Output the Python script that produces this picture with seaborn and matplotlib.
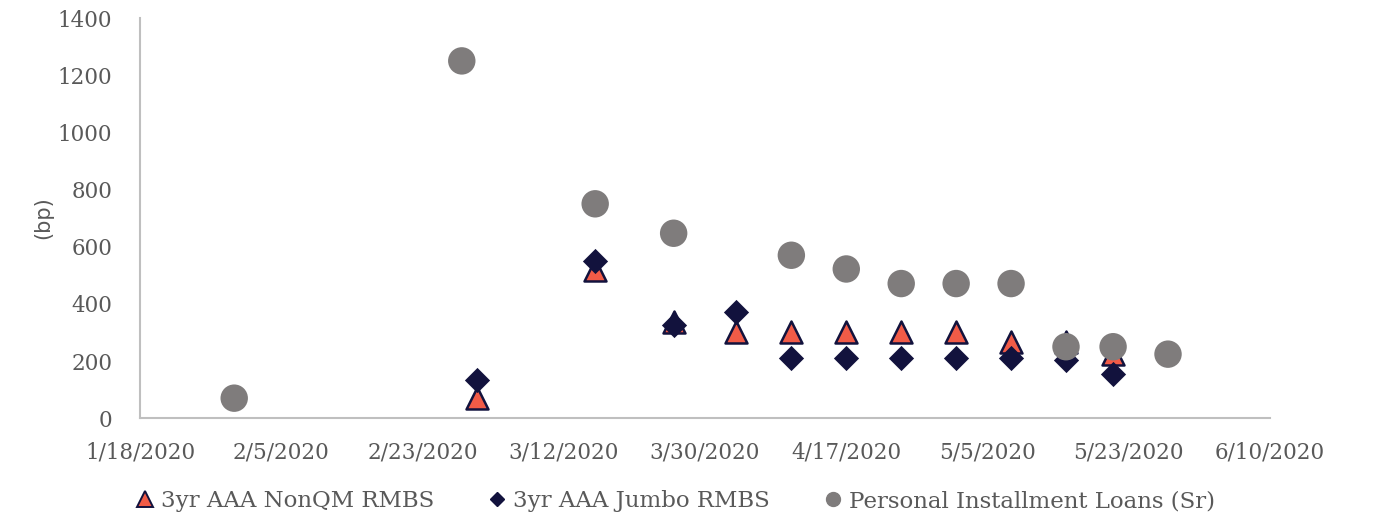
import pandas as pd
import matplotlib.pyplot as plt
from matplotlib.lines import Line2D
import seaborn as sns

# fechas y spreads (bp)
rmbs_dates = ['2020-03-01', '2020-03-16', '2020-03-26', '2020-04-03', '2020-04-10',
              '2020-04-17', '2020-04-24', '2020-05-01', '2020-05-08', '2020-05-15',
              '2020-05-21']
nonqm = [70, 520, 335, 300, 300, 300, 300, 300, 265, 265, 225]
jumbo = [133, 550, 325, 372, 210, 210, 210, 210, 210, 205, 156]

loan_dates = ['2020-01-30', '2020-02-28', '2020-03-16', '2020-03-26', '2020-04-10',
              '2020-04-17', '2020-04-24', '2020-05-01', '2020-05-08', '2020-05-15',
              '2020-05-21', '2020-05-28']
loans = [70, 1250, 750, 647, 570, 522, 471, 471, 471, 250, 250, 224]

tick_dates = ['2020-01-18', '2020-02-05', '2020-02-23', '2020-03-12', '2020-03-30',
              '2020-04-17', '2020-05-05', '2020-05-23', '2020-06-10']
tick_labels = ['1/18/2020', '2/5/2020', '2/23/2020', '3/12/2020', '3/30/2020',
               '4/17/2020', '5/5/2020', '5/23/2020', '6/10/2020']

labels = ['3yr AAA NonQM RMBS', '3yr AAA Jumbo RMBS', 'Personal Installment Loans (Sr)']

df_rmbs = pd.DataFrame({'fecha': pd.to_datetime(rmbs_dates), 'nonqm': nonqm, 'jumbo': jumbo})
df_loans = pd.DataFrame({'fecha': pd.to_datetime(loan_dates), 'loans': loans})

sns.set_style('white')
plt.rcParams['font.family'] = ['DejaVu Serif']

red = '#f15b47'
navy = '#12123d'
gray = '#7f7c7c'
txt = '#595959'

fig = plt.figure(figsize=(13.73, 5.15), dpi=100)
ax = fig.add_axes([0.102, 0.188, 0.823, 0.777])

sns.scatterplot(data=df_rmbs, x='fecha', y='nonqm', marker='^', s=250, color=red,
                edgecolor=navy, linewidth=1.8, ax=ax, zorder=3)
sns.scatterplot(data=df_rmbs, x='fecha', y='jumbo', marker='D', s=165, color=navy,
                edgecolor=navy, linewidth=0, ax=ax, zorder=4)
sns.scatterplot(data=df_loans, x='fecha', y='loans', marker='o', s=390, color=gray,
                edgecolor='none', linewidth=0, ax=ax, zorder=5)

ax.set_xlim(pd.Timestamp(tick_dates[0]), pd.Timestamp(tick_dates[-1]))
ax.set_ylim(0, 1400)
ax.set_xticks(pd.to_datetime(tick_dates))
ax.set_xticklabels(tick_labels)
ax.set_yticks(range(0, 1401, 200))
ax.tick_params(axis='both', length=0, labelsize=15.5, colors=txt)
ax.tick_params(axis='x', pad=17)
ax.tick_params(axis='y', pad=20)

ax.set_xlabel('')
ax.set_ylabel('(bp)', family='DejaVu Sans', fontsize=15, color=txt, labelpad=3)

for s in ['top', 'right']:
    ax.spines[s].set_visible(False)
for s in ['left', 'bottom']:
    ax.spines[s].set_color('#bfbfbf')
    ax.spines[s].set_linewidth(1.5)

handles = [
    Line2D([], [], linestyle='none', marker='^', markersize=11, markerfacecolor=red,
           markeredgecolor=navy, markeredgewidth=1.4),
    Line2D([], [], linestyle='none', marker='D', markersize=7.5, markerfacecolor=navy,
           markeredgecolor=navy),
    Line2D([], [], linestyle='none', marker='o', markersize=10, markerfacecolor=gray,
           markeredgecolor=gray),
]
leg = fig.legend(handles, labels, loc='lower left', bbox_to_anchor=(0.083, -0.035),
                 ncol=3, frameon=False, fontsize=16.5, handletextpad=0.25,
                 columnspacing=2.3, handlelength=0.9)
for t in leg.get_texts():
    t.set_color(txt)

fig.savefig('out.png', dpi=100)
